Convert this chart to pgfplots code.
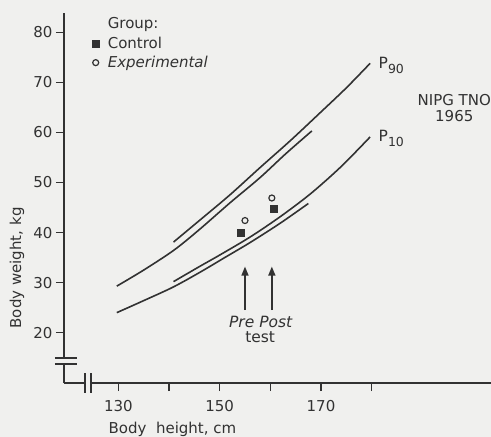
\documentclass[border=0pt]{standalone}
\usepackage{fontspec}
\setmainfont{DejaVu Sans}
\usepackage{pgfplots}
\pgfplotsset{compat=1.18}
\usetikzlibrary{arrows.meta}

\definecolor{ink}{RGB}{50,50,50}
\definecolor{paper}{RGB}{240,240,238}

\newcommand{\sub}[1]{\raisebox{-5pt}{\fontsize{12.5}{14}\selectfont #1}}

\begin{document}
\begin{tikzpicture}
% page = 491 x 437, axis corner at (64,383) px from top-left
\path[use as bounding box, fill=paper] (-64pt,-54pt) rectangle (427pt,383pt);
\begin{axis}[
    at={(0,0)}, anchor=south west,
    scale only axis, width=427pt, height=370pt,
    xmin=119.28, xmax=203.55, ymin=9.95, ymax=83.85,
    axis x line=bottom, axis y line=left,
    axis line style={-, ink, line width=1.5pt},
    clip=false,
    xtick={130,140,150,160,170,180},
    xticklabels={130,,150,,170,},
    ytick={20,30,40,50,60,70,80},
    tick align=outside, major tick length=8pt,
    tick style={ink, line width=1.5pt},
    /pgf/number format/assume math mode=true,
    ticklabel style={font=\fontsize{15}{17}\selectfont, text=ink},
    xticklabel style={yshift=-6pt},
    xlabel={Body\ \ height, cm},
    ylabel={Body weight, kg},
    label style={font=\fontsize{15}{18}\selectfont, text=ink},
    xlabel style={at={(axis description cs:0.254,-0.124)}, anchor=center},
    ylabel style={at={(axis description cs:-0.110,0.311)}, anchor=center},
    legend style={draw=none, fill=none, at={(axis description cs:0.056,0.992)},
        anchor=north west, font=\fontsize{15}{18}\selectfont, text=ink,
        row sep=3.5pt, inner sep=0pt, nodes={inner sep=1.5pt}},
    legend cell align=left,
    legend image code/.code={\path (0pt,0pt) (17pt,0pt); \draw[#1] plot coordinates {(7pt,0pt)};},
]
\addlegendimage{empty legend}
\addlegendentry{Group:}

% P90 curves
\addplot[ink, line width=1.6pt, smooth, forget plot] coordinates {
    (129.7,29.3) (135,32.5) (141,36.5) (146,40.6) (152,45.9) (158,51.0) (163,55.7) (168.2,60.3)};
\addplot[ink, line width=1.6pt, smooth, forget plot] coordinates {
    (140.9,38.1) (146,42.4) (152,47.5) (158,53.0) (164,58.4) (169.8,63.9) (175,68.9) (179.7,73.8)};
% P10 curves
\addplot[ink, line width=1.6pt, smooth, forget plot] coordinates {
    (129.7,24.0) (135,26.4) (140.8,29.1) (146,32.0) (151,35.0) (156,38.0) (162,41.9) (167.5,45.8)};
\addplot[ink, line width=1.6pt, smooth, forget plot] coordinates {
    (140.9,30.2) (146,33.2) (150,35.5) (156,39.1) (162,43.2) (168,47.8) (174,53.2) (179.7,59.1)};

% groups, pre and post test
\addplot[only marks, mark=square*, mark size=3.5pt, ink] coordinates {(154.1,40.0) (160.6,44.7)};
\addlegendentry{Control}
\addplot[only marks, mark=o, mark size=3pt, ink, line width=1.2pt] coordinates {(155.0,42.4) (160.3,46.9)};
\addlegendentry{\textit{Experimental}}

% arrows
\draw[ink, line width=1.5pt, -{Triangle[length=9pt,width=7pt]}] (axis cs:155.0,24.5) -- (axis cs:155.0,33.2);
\draw[ink, line width=1.5pt, -{Triangle[length=9pt,width=7pt]}] (axis cs:160.3,24.5) -- (axis cs:160.3,33.2);
\node[text=ink, font=\fontsize{15.5}{18}\selectfont\itshape] at (axis cs:158.1,22.2) {Pre Post};
\node[text=ink, font=\fontsize{15.5}{18}\selectfont] at (axis cs:158.0,19.2) {test};

% curve labels
\node[text=ink, font=\fontsize{15.5}{18}\selectfont, anchor=base west, xshift=5pt, yshift=-5pt] at (axis cs:179.7,73.8) {P\sub{90}};
\node[text=ink, font=\fontsize{15.5}{18}\selectfont, anchor=base west, xshift=5pt, yshift=-5pt] at (axis cs:179.7,59.1) {P\sub{10}};
\node[text=ink, font=\fontsize{15}{16}\selectfont, align=center] at (axis cs:196.3,64.9) {NIPG TNO\\1965};

% axis breaks
\fill[paper] (axis cs:118.8,13.75) rectangle (axis cs:119.8,14.95);
\draw[ink, line width=1.5pt] (axis cs:117.5,14.95) -- (axis cs:121.85,14.95);
\draw[ink, line width=1.5pt] (axis cs:117.5,13.75) -- (axis cs:121.85,13.75);
\fill[paper] (axis cs:123.43,9.5) rectangle (axis cs:124.62,10.4);
\draw[ink, line width=1.5pt] (axis cs:123.43,7.96) -- (axis cs:123.43,11.95);
\draw[ink, line width=1.5pt] (axis cs:124.62,7.96) -- (axis cs:124.62,11.95);
\end{axis}
\end{tikzpicture}
\end{document}
